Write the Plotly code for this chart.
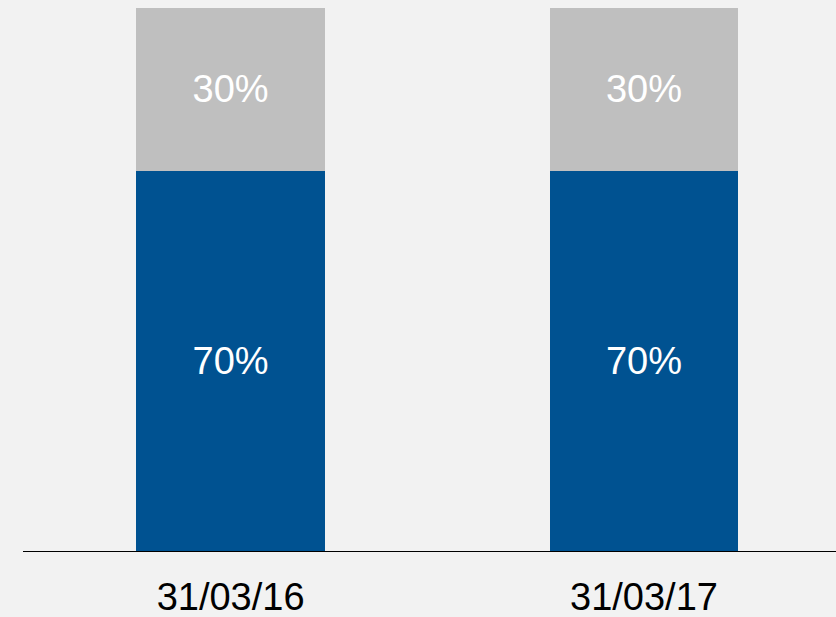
import plotly.graph_objects as go

categories = ["31/03/16", "31/03/17"]
share_blue = [70, 70]
share_gray = [30, 30]
labels_blue = ["70%", "70%"]
labels_gray = ["30%", "30%"]

x_pos = [0, 1]
font_family = "Liberation Sans, Arial, sans-serif"

fig = go.Figure()
fig.add_trace(go.Bar(
    x=x_pos, y=share_blue, text=labels_blue, textposition="inside",
    insidetextanchor="middle", marker=dict(color="#005291", line=dict(width=0)),
    textfont=dict(color="white", size=38, family=font_family),
    width=0.4565, hoverinfo="skip", showlegend=False,
))
fig.add_trace(go.Bar(
    x=x_pos, y=share_gray, text=labels_gray, textposition="inside",
    insidetextanchor="middle", marker=dict(color="#BFBFBF", line=dict(width=0)),
    textfont=dict(color="white", size=38, family=font_family),
    width=0.4565, hoverinfo="skip", showlegend=False,
))

fig.update_layout(
    barmode="stack",
    width=836, height=617,
    margin=dict(l=23, r=0, t=8, b=66),
    paper_bgcolor="#F2F2F2", plot_bgcolor="#F2F2F2",
    uniformtext=dict(minsize=38, mode="show"),
    xaxis=dict(
        range=[-0.5022, 1.4645], tickmode="array", tickvals=x_pos, ticktext=categories,
        showgrid=False, zeroline=False, showline=True, linecolor="black", linewidth=1.2,
        ticks="", tickfont=dict(size=38, color="black", family=font_family),
        ticklabelstandoff=12,
    ),
    yaxis=dict(range=[0, 100], visible=False, showgrid=False, zeroline=False),
)

fig.write_html(
    "out.html",
    config={"displayModeBar": False},
    post_script="document.body.style.margin='0';document.body.style.padding='0';document.body.style.overflow='hidden';document.body.style.background='#F2F2F2';",
)
